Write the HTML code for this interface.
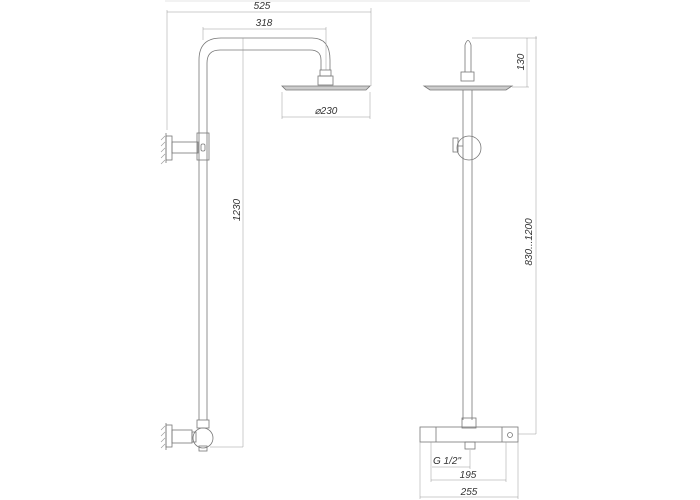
<!DOCTYPE html>
<html><head><style>
html,body{margin:0;padding:0;background:#fff;width:700px;height:500px;overflow:hidden}
text{font-family:"Liberation Sans",sans-serif;font-size:10px;font-style:italic;fill:#333}
</style></head><body>
<svg width="700" height="500" viewBox="0 0 700 500" xmlns="http://www.w3.org/2000/svg">
<g fill="none" stroke="#777" stroke-width="0.8">
<!-- top faint line -->
<line x1="165" y1="1" x2="530" y2="1" stroke="#ddd"/>
<!-- LEFT VIEW pipe -->
<path d="M199 420 V60 Q199 38 221 38 H312 Q330 38 330 60 V70"/>
<path d="M207 420 V63 Q207 50 220 50 H310 Q321 50 321 60 V70"/>
<rect x="320" y="70" width="11" height="6"/>
<rect x="318" y="76" width="15" height="9"/>
<path d="M282 86 L370 86 L366 90 L286 90 Z" fill="#ccc"/>
<!-- bracket -->
<line x1="166" y1="133" x2="166" y2="163"/>
<rect x="166" y="136" width="6" height="24"/>
<rect x="172" y="142" width="26" height="11"/>
<rect x="197" y="133" width="12" height="27"/>
<rect x="201" y="144" width="4" height="7" rx="1.5"/>
<!-- bottom valve -->
<rect x="197" y="420" width="12" height="8"/>
<circle cx="203" cy="438" r="10"/>
<rect x="199" y="446" width="8" height="5"/>
<line x1="166" y1="423" x2="166" y2="450"/>
<rect x="166" y="425" width="6" height="22"/>
<rect x="172" y="430" width="20" height="13"/>
<rect x="192" y="432" width="4" height="10"/>
<!-- RIGHT VIEW -->
<path d="M465 72 V45 Q468 36 471 45 V72"/>
<rect x="461" y="72" width="13" height="9"/>
<path d="M424 86 L512 86 L506 90 L430 90 Z" fill="#ccc"/>
<line x1="463" y1="90" x2="463" y2="420"/>
<line x1="472" y1="90" x2="472" y2="420"/>
<circle cx="469" cy="148" r="12"/>
<rect x="453" y="138" width="5" height="14"/>
<line x1="458" y1="146" x2="463" y2="146"/>
<rect x="462" y="418" width="14" height="10"/>
<rect x="420" y="427" width="98" height="15"/>
<line x1="436" y1="427" x2="436" y2="442"/>
<line x1="502" y1="427" x2="502" y2="442"/>
<circle cx="510" cy="435" r="2.5"/>
<rect x="465" y="442" width="10" height="7"/>
</g>
<!-- hatch -->
<g stroke="#999" stroke-width="0.6">
<path d="M165 136 l-4 4 M165 142 l-4 4 M165 148 l-4 4 M165 154 l-4 4 M165 160 l-4 4"/>
<path d="M165 426 l-4 4 M165 432 l-4 4 M165 438 l-4 4 M165 444 l-4 4"/>
</g>
<!-- dimensions -->
<g fill="none" stroke="#999" stroke-width="0.5">
<line x1="167" y1="12" x2="371" y2="12"/><line x1="167" y1="10" x2="167" y2="130"/><line x1="371" y1="8" x2="371" y2="86"/>
<line x1="203" y1="29" x2="326" y2="29"/><line x1="203" y1="27" x2="203" y2="40"/><line x1="326" y1="27" x2="326" y2="70"/>
<line x1="243" y1="38" x2="243" y2="447"/><line x1="210" y1="447" x2="243" y2="447"/>
<line x1="282" y1="117" x2="370" y2="117"/><line x1="282" y1="92" x2="282" y2="119"/><line x1="370" y1="92" x2="370" y2="119"/>
<line x1="472" y1="38" x2="537" y2="38"/><line x1="527" y1="38" x2="527" y2="87"/><line x1="512" y1="87" x2="529" y2="87"/>
<line x1="536" y1="36" x2="536" y2="434"/><line x1="518" y1="434" x2="536" y2="434"/>
<line x1="432" y1="467" x2="470" y2="467"/><line x1="470" y1="450" x2="470" y2="469"/>
<line x1="431" y1="480" x2="506" y2="480"/><line x1="431" y1="442" x2="431" y2="482"/><line x1="506" y1="442" x2="506" y2="482"/>
<line x1="420" y1="497" x2="518" y2="497"/><line x1="420" y1="442" x2="420" y2="499"/><line x1="518" y1="442" x2="518" y2="499"/>
</g>
<text x="262" y="9" text-anchor="middle">525</text>
<text x="264" y="26" text-anchor="middle">318</text>
<text x="326" y="114" text-anchor="middle">⌀230</text>
<text transform="translate(240,210) rotate(-90)" text-anchor="middle">1230</text>
<text transform="translate(524,62) rotate(-90)" text-anchor="middle">130</text>
<text transform="translate(532,242) rotate(-90)" text-anchor="middle">830...1200</text>
<text x="447" y="464" text-anchor="middle">G 1/2"</text>
<text x="468" y="478" text-anchor="middle">195</text>
<text x="469" y="495" text-anchor="middle">255</text>
</svg>
</body></html>
